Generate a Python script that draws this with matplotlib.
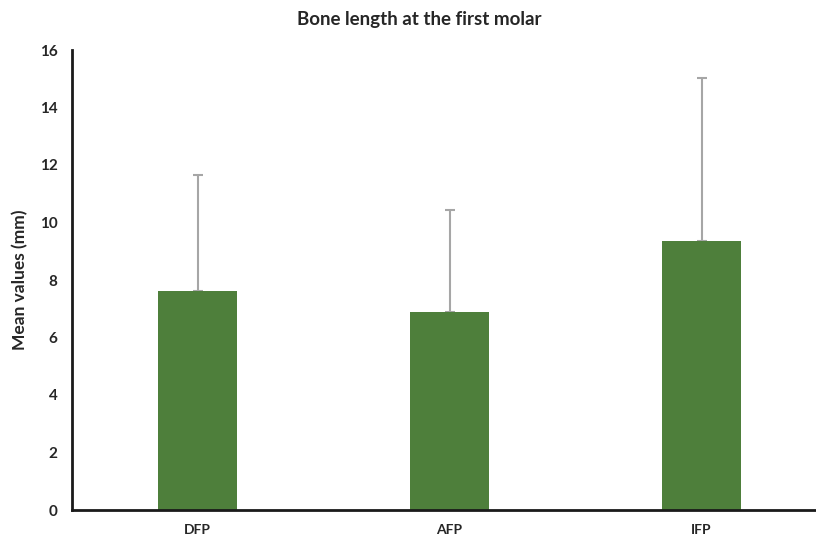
import numpy as np
import matplotlib.pyplot as plt

plt.rcParams['font.family'] = ['Lato', 'DejaVu Sans']

groups = ["DFP", "AFP", "IFP"]
means = [7.62, 6.89, 9.36]
sd_upper = [4.03, 3.54, 5.67]

fig = plt.figure(figsize=(8.16, 5.37), dpi=100)
ax = fig.add_axes([71.5 / 816, 27 / 537, 756 / 816, 460 / 537])

x = np.arange(len(groups))
ax.bar(x, means, width=0.31, color="#4E7F3B", zorder=2)
ax.errorbar(x, means, yerr=[np.zeros(len(means)), sd_upper], fmt="none",
            ecolor="#A6A6A6", elinewidth=1.5, capsize=3.5, capthick=1.5, zorder=1)

ax.set_xlim(-0.5, 2.5)
ax.set_ylim(0, 16)
ax.set_yticks(range(0, 17, 2))
ax.set_xticks(x)
ax.set_xticklabels(groups, fontsize=10, fontweight="bold", color="#262626")
ax.tick_params(axis="both", length=0, pad=10)
for lab in ax.get_yticklabels():
    lab.set_fontsize(11)
    lab.set_fontweight("bold")
    lab.set_color("#262626")

ax.spines["top"].set_visible(False)
ax.spines["right"].set_visible(False)
for side in ["left", "bottom"]:
    ax.spines[side].set_linewidth(2)
    ax.spines[side].set_color("#1a1a1a")
    ax.spines[side].set_clip_on(False)

ax.set_ylabel("Mean values (mm)", fontsize=12.5, fontweight="bold", color="#262626", labelpad=8)
fig.text(419 / 816, 1 - 19 / 537, "Bone length at the first molar", ha="center", va="center",
         fontsize=13.5, fontweight="bold", color="#262626")

fig.savefig("out.png", dpi=100)
